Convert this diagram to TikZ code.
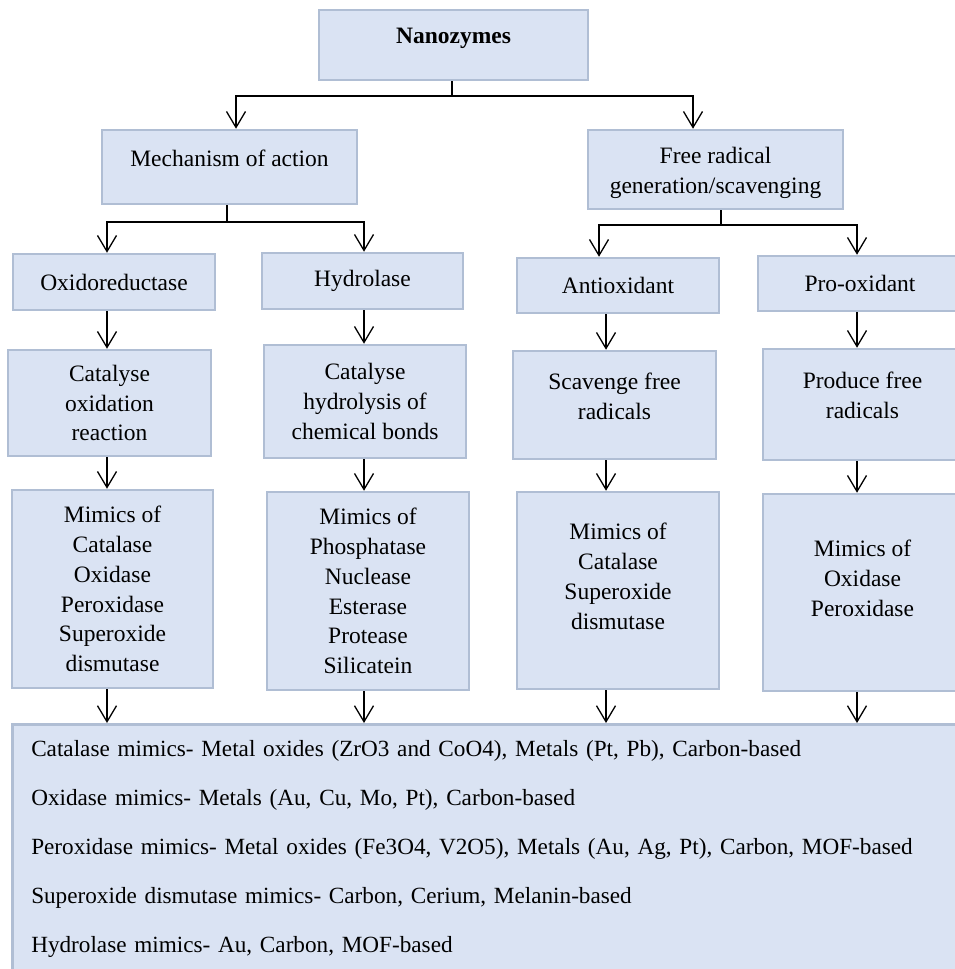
\documentclass[tikz,border=0pt]{standalone}
\usepackage{fontspec}
\setmainfont{Liberation Serif}
\usetikzlibrary{arrows.meta,positioning}

\definecolor{boxfill}{RGB}{218,227,243}
\definecolor{boxline}{RGB}{176,190,212}
\tikzset{
  box/.style={draw=boxline, fill=boxfill, line width=2.5pt, align=center, inner sep=0pt},
  txt/.style={align=center},
  arr/.style={-{Straight Barb[length=16pt,width=19pt]}, line width=1.3pt},
  link/.style={line width=1.3pt},
}

\begin{document}
\begin{tikzpicture}[x=1pt, y=-1pt, every node/.style={font=\fontsize{23.5}{29.8}\selectfont}]
  \useasboundingbox (0,0) rectangle (955,969);

  % columns of the vertical arrows
  \coordinate (c1) at (107,0);
  \coordinate (c2) at (364,0);
  \coordinate (c3) at (606,0);
  \coordinate (c4) at (857,0);
  % junctions under the upper boxes
  \coordinate (j0) at (452,96);
  \coordinate (j1) at (227,222);
  \coordinate (j2) at (721,225);

  % top
  \node[box, minimum width=269pt, minimum height=70pt] (nano) at (453.5,45) {};
  \node[txt] (nanoT) at ([yshift=7pt]nano.center) {\textbf{Nanozymes}};

  % second level
  \node[box, minimum width=255pt, minimum height=74pt] (mech) at (229.5,167) {};
  \node[txt] (mechT) at ([yshift=9pt]mech.center) {Mechanism of action};
  \node[box, minimum width=255pt, minimum height=79pt] (free) at (715.5,169.5) {};
  \node[txt] (freeT) at ([yshift=-3pt]free.center) {Free radical\\generation/scavenging};

  % third level
  \node[box, minimum width=202pt, minimum height=56pt] (oxr) at (114,282) {Oxidoreductase};
  \node[box, minimum width=201pt, minimum height=56pt] (hyd) at (362.5,281) {Hydrolase};
  \node[box, minimum width=202pt, minimum height=55pt] (anti) at (618,285.5) {Antioxidant};
  \node[box, minimum width=204pt, minimum height=55pt] (pro) at (860,283.5) {Pro-oxidant};

  % what they do
  \node[box, minimum width=203pt, minimum height=106pt] (oxcat) at (109.5,403) {Catalyse\\oxidation\\reaction};
  \node[box, minimum width=202pt, minimum height=113pt] (hydcat) at (365,401.5) {Catalyse\\hydrolysis of\\chemical bonds};
  \node[box, minimum width=203pt, minimum height=108pt] (scav) at (614.5,405) {};
  \node[txt] (scavT) at ([yshift=9pt]scav.center) {Scavenge free\\radicals};
  \node[box, minimum width=199pt, minimum height=111pt] (prod) at (862.5,404.5) {};
  \node[txt] (prodT) at ([yshift=9pt]prod.center) {Produce free\\radicals};

  % mimics
  \node[box, minimum width=201pt, minimum height=198pt] (mimA) at (112.5,589) {Mimics of\\Catalase\\Oxidase\\Peroxidase\\Superoxide\\dismutase};
  \node[box, minimum width=202pt, minimum height=198pt] (mimB) at (368,591) {Mimics of\\Phosphatase\\Nuclease\\Esterase\\Protease\\Silicatein};
  \node[box, minimum width=202pt, minimum height=197pt] (mimC) at (618,590.5) {};
  \node[txt] (mimCT) at ([yshift=14pt]mimC.center) {Mimics of\\Catalase\\Superoxide\\dismutase};
  \node[box, minimum width=199pt, minimum height=197pt] (mimD) at (862.5,592.5) {};
  \node[txt] (mimDT) at ([yshift=14pt]mimD.center) {Mimics of\\Oxidase\\Peroxidase};

  % examples
  \node[box, anchor=north west, text width=916pt, inner xsep=19pt, minimum height=250pt, align=left,
        font=\fontsize{23.2}{49}\selectfont] (uses) at (11,723) {Catalase mimics- Metal oxides (ZrO3 and CoO4), Metals (Pt, Pb), Carbon-based\\
    Oxidase mimics- Metals (Au, Cu, Mo, Pt), Carbon-based\\
    Peroxidase mimics- Metal oxides (Fe3O4, V2O5), Metals (Au, Ag, Pt), Carbon, MOF-based\\
    Superoxide dismutase mimics- Carbon, Cerium, Melanin-based\\
    Hydrolase mimics- Au, Carbon, MOF-based};

  % connectors
  \draw[link] (nano.south -| j0) -- (j0);
  \draw[arr] (j0) -| ([xshift=6.5pt]mech.north);
  \draw[arr] (j0) -| ([xshift=-22.5pt]free.north);
  \draw[link] (mech.south -| j1) -- (j1);
  \draw[arr] (j1) -| (oxr.north -| c1);
  \draw[arr] (j1) -| (hyd.north -| c2);
  \draw[link] (free.south -| j2) -- (j2);
  \draw[arr] (j2) -| ([xshift=-19pt]anti.north);
  \draw[arr] (j2) -| (pro.north -| c4);

  \foreach \a/\b/\c in {oxr/oxcat/c1, oxcat/mimA/c1, mimA/uses/c1,
                        hyd/hydcat/c2, hydcat/mimB/c2, mimB/uses/c2,
                        anti/scav/c3, scav/mimC/c3, mimC/uses/c3,
                        pro/prod/c4, prod/mimD/c4, mimD/uses/c4}
    \draw[arr] (\a.south -| \c) -- (\b.north -| \c);
\end{tikzpicture}
\end{document}
